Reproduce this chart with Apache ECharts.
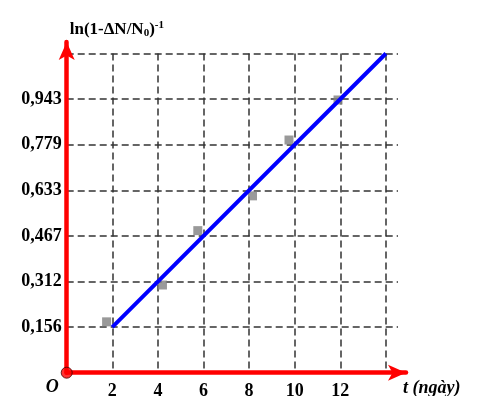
<!DOCTYPE html>
<html><head><meta charset="utf-8">
<script src="https://cdn.jsdelivr.net/npm/echarts@6/dist/echarts.min.js"></script>
<style>html,body{margin:0;padding:0;background:#fff}#c{width:477px;height:396px}</style>
</head><body><div id="c"></div>
<script>
// ---- data ----
const pointX = [1.75, 4.2, 5.75, 8.15, 9.75, 11.9];
const pointY = [0.174, 0.300, 0.486, 0.605, 0.796, 0.933];
const fitX = [2, 14];
const fitY = [0.156, 1.092];
const xTickStep = 2;
const xMax = 14;
const xTickLabels = ['O', '2', '4', '6', '8', '10', '12', ''];
const yStep = 0.156;
const yMax = 1.092;
const yTickLabels = ['', '0,156', '0,312', '0,467', '0,633', '0,779', '0,943', ''];
const xAxisTitle = 't (ngày)';

const FONT = '"Liberation Serif", "Times New Roman", serif';
const gridDash = { color: '#333', width: 1.5, type: [7, 4] };

const chart = echarts.init(document.getElementById('c'), null, { renderer: 'canvas' });
chart.setOption({
  animation: false,
  backgroundColor: '#fff',
  grid: [
    { left: 66.7, right: 91.1, top: 53.5, bottom: 23.3, outerBoundsMode: 'none', containLabel: false },   // data grid
    { left: 66.7, right: 79, top: 53.5, bottom: 23.3, outerBoundsMode: 'none', containLabel: false },     // horizontal grid lines
    { left: 66.7, right: 71, top: 42, bottom: 23.3, outerBoundsMode: 'none', containLabel: false }        // red axes with arrows
  ],
  xAxis: [
    {
      gridIndex: 0, type: 'value', min: 0, max: xMax, interval: xTickStep,
      axisLine: { show: false }, axisTick: { show: false },
      splitLine: { show: true, lineStyle: gridDash },
      axisLabel: {
        margin: 10, fontFamily: FONT, fontWeight: 'bold', fontSize: 18, color: '#000',
        formatter: v => {
          const t = xTickLabels[Math.round(v / xTickStep)] || '';
          return v === 0 ? '{o|' + t + '}' : t;
        },
        rich: { o: { fontFamily: FONT, fontWeight: 'bold', fontStyle: 'italic', fontSize: 18, lineHeight: 10, color: '#000', padding: [0, 29, 0, 0] } }
      }
    },
    { gridIndex: 1, type: 'value', min: 0, max: 1, show: false },
    {
      gridIndex: 2, type: 'value', min: 0, max: 1, z: 5,
      axisLine: { show: true, lineStyle: { color: '#ff0000', width: 4.5 }, symbol: ['none', 'arrow'], symbolSize: [12, 18] },
      axisTick: { show: false }, axisLabel: { show: false }, splitLine: { show: false },
      name: xAxisTitle, nameLocation: 'end', nameGap: -3,
      nameTextStyle: { fontFamily: FONT, fontWeight: 'bold', fontStyle: 'italic', fontSize: 18, color: '#000', align: 'left', verticalAlign: 'top', padding: [7, 0, 0, 0] }
    }
  ],
  yAxis: [
    {
      gridIndex: 0, type: 'value', min: 0, max: yMax, interval: yStep,
      axisLine: { show: false }, axisTick: { show: false }, splitLine: { show: false },
      axisLabel: {
        margin: 5, fontFamily: FONT, fontWeight: 'bold', fontSize: 18, color: '#000',
        formatter: v => yTickLabels[Math.round(v / yStep)] || ''
      }
    },
    {
      gridIndex: 1, type: 'value', min: 0, max: yMax, interval: yStep,
      axisLine: { show: false }, axisTick: { show: false }, axisLabel: { show: false },
      splitLine: { show: true, lineStyle: gridDash }
    },
    {
      gridIndex: 2, type: 'value', min: 0, max: 1, z: 5,
      axisLine: { show: true, lineStyle: { color: '#ff0000', width: 4.5 }, symbol: ['none', 'arrow'], symbolSize: [12, 18] },
      axisTick: { show: false }, axisLabel: { show: false }, splitLine: { show: false },
      name: '{a|ln(1-ΔN/N}{s|0}{a|)}{p|-1}', nameLocation: 'end', nameGap: 3,
      nameTextStyle: {
        align: 'left', padding: [0, 0, 0, 3],
        rich: {
          a: { fontFamily: FONT, fontWeight: 'bold', fontSize: 17, color: '#000' },
          s: { fontFamily: FONT, fontWeight: 'bold', fontSize: 11, color: '#000', padding: [8, 0, 0, 0] },
          p: { fontFamily: FONT, fontWeight: 'bold', fontSize: 11, color: '#000', padding: [0, 0, 8, 0] }
        }
      }
    }
  ],
  series: [
    {
      type: 'scatter', xAxisIndex: 0, yAxisIndex: 0, z: 2,
      symbol: 'rect', symbolSize: 9,
      itemStyle: { color: '#808080' },
      data: pointX.map((x, i) => [x, pointY[i]])
    },
    {
      type: 'line', xAxisIndex: 0, yAxisIndex: 0, z: 3,
      showSymbol: false, symbol: 'none',
      lineStyle: { color: '#0000ff', width: 4 },
      data: fitX.map((x, i) => [x, fitY[i]])
    },
    {
      type: 'scatter', xAxisIndex: 0, yAxisIndex: 0, z: 10, clip: false,
      symbol: 'circle', symbolSize: 11,
      itemStyle: { color: '#ff0000', borderColor: '#400', borderWidth: 1 },
      data: [[0, 0]]
    }
  ]
});
</script></body></html>
